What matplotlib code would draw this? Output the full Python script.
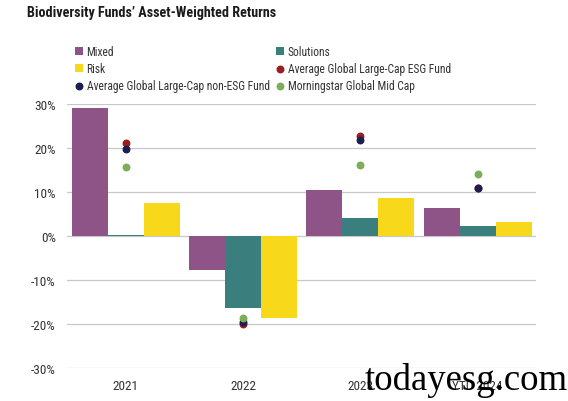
import matplotlib.pyplot as plt
import numpy as np

plt.rcParams['font.family'] = ['Roboto Condensed', 'Archivo Narrow', 'PT Sans Narrow',
                               'DejaVu Sans']

years = ['2021', '2022', '2023', 'YTD 2024']
mixed = [29.0, -7.7, 10.5, 6.4]
solutions = [0.3, -16.4, 4.0, 2.3]
risk = [7.5, -18.7, 8.6, 3.1]
esg_fund = [21.1, -19.9, 22.8, 11.0]
non_esg_fund = [19.8, -19.5, 21.8, 11.0]
mid_cap = [15.6, -18.6, 16.1, 14.1]

fig = plt.figure(figsize=(5.68, 4.02), dpi=100)
ax = fig.add_axes([0.118, 0.082, 0.826, 0.657])

x = np.arange(len(years))
w = 0.307
b1 = ax.bar(x - w, mixed, w, color='#8E5488', label='Mixed', zorder=2)
b2 = ax.bar(x, solutions, w, color='#3A7E7E', label='Solutions', zorder=2)
b3 = ax.bar(x + w, risk, w, color='#F8D81A', label='Risk', zorder=2)
d1 = ax.scatter(x, esg_fund, s=22, color='#9E1B20', zorder=3,
                label='Average Global Large-Cap ESG Fund')
d2 = ax.scatter(x, non_esg_fund, s=22, color='#1C1E4E', zorder=3,
                label='Average Global Large-Cap non-ESG Fund')
d3 = ax.scatter(x, mid_cap, s=22, color='#7BAE57', zorder=3,
                label='Morningstar Global Mid Cap')

ax.set_ylim(-30, 30)
ax.set_xlim(-0.5, 3.5)
ax.set_yticks(range(-30, 31, 10))
ax.set_yticklabels([f'{v}%' for v in range(-30, 31, 10)])
ax.set_xticks(x)
ax.set_xticklabels(years)
ax.yaxis.grid(True, color='#C8C8C8', linewidth=0.9, zorder=0)
ax.tick_params(length=0, labelsize=9.5, colors='#333333', pad=8)
for s in ax.spines.values():
    s.set_visible(False)

fig.text(0.048, 0.967, 'Biodiversity Funds\u2019 Asset-Weighted Returns',
         fontsize=10.2, fontweight='bold', color='#1a1a1a', va='center')

leg_kw = dict(loc='upper left', frameon=False, fontsize=8.3, handlelength=0.7,
              handleheight=0.7, handletextpad=0.3, labelspacing=0.35,
              borderaxespad=0, borderpad=0, labelcolor='#333333')
fig.legend(handles=[b1, b3, d2], bbox_to_anchor=(0.132, 0.885), **leg_kw)
fig.legend(handles=[b2, d1, d3], bbox_to_anchor=(0.486, 0.885), **leg_kw)

fig.text(1.0, 0.01, 'todayesg.com', family='Liberation Serif',
         fontsize=26.5, ha='right', va='bottom', color='black')

fig.savefig('out.png', dpi=100)
